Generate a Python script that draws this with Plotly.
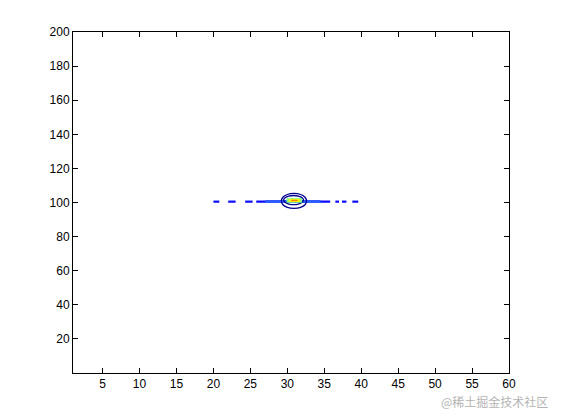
"""MATLAB-style contour plot: narrow peak near (31, 101) on a 60 x 200 grid."""

import plotly.graph_objects as go

X_RANGE = [1, 60]
Y_RANGE = [0, 200]
X_TICKS = [5, 10, 15, 20, 25, 30, 35, 40, 45, 50, 55, 60]
Y_TICKS = [20, 40, 60, 80, 100, 120, 140, 160, 180, 200]

# outer (lowest) contour ring
outer_ring_x = [32.6, 32.4, 31.8, 30.9, 30.0, 29.4, 29.2, 29.4, 30.0, 30.9, 31.8, 32.4, 32.6]
outer_ring_y = [100.9, 103.1, 104.7, 105.3, 104.7, 103.1, 100.9, 98.7, 97.1, 96.5, 97.1, 98.7, 100.9]

# second contour ring
inner_ring_x = [32.2, 32.0, 31.5, 30.85, 30.2, 29.7, 29.5, 29.7, 30.2, 30.85, 31.5, 32.0, 32.2]
inner_ring_y = [101.4, 102.8, 103.8, 104.1, 103.8, 102.8, 101.4, 100.1, 99.1, 98.7, 99.1, 100.1, 101.4]

# thin ridge along y ~ 100.5 (broken into dashes at both ends)
ridge_x = [20.0, 20.8, None, 22.0, 23.0, None, 24.3, 25.3, None, 25.8, 35.8,
           None, 36.5, 37.0, None, 37.4, 38.0, None, 38.8, 39.6]
ridge_y = [100.5, 100.5, None, 100.5, 100.5, None, 100.5, 100.5, None, 100.5, 100.5,
           None, 100.5, 100.5, None, 100.5, 100.5, None, 100.5, 100.5]
ridge_core_x = [27.0, 34.5]
ridge_core_y = [100.6, 100.6]

# peak contours (highest levels)
peak_levels = [
    ("#7fff7f", 4.5, [29.9, 32.0]),
    ("#ffff00", 3.0, [30.2, 31.7]),
    ("#ff8000", 1.5, [30.5, 31.4]),
]
PEAK_Y = 101.2

# white breaks along the bottom edge (contour at the lower boundary)
edge_gap_x = [1.9, 2.3, None, 3.1, 3.65, None, 5.8, 7.2, None, 22.7, 23.2, None,
              36.8, 37.4, None, 38.8, 39.6, None, 40.1, 41.5, None, 42.3, 42.8,
              None, 44.6, 45.5]
edge_gap_y = [0.0 if v is not None else None for v in edge_gap_x]

fig = go.Figure()

fig.add_trace(go.Scatter(
    x=ridge_x, y=ridge_y, mode="lines",
    line=dict(color="#0a0aff", width=2.2), hoverinfo="skip",
))
fig.add_trace(go.Scatter(
    x=ridge_core_x, y=ridge_core_y, mode="lines",
    line=dict(color="#2f5cff", width=3.2), hoverinfo="skip",
))
fig.add_trace(go.Scatter(
    x=outer_ring_x, y=outer_ring_y, mode="lines",
    line=dict(color="#00008f", width=1.3, shape="spline"), hoverinfo="skip",
))
fig.add_trace(go.Scatter(
    x=inner_ring_x, y=inner_ring_y, mode="lines",
    line=dict(color="#000090", width=1.3, shape="spline"), hoverinfo="skip",
))
for color, width, xs in peak_levels:
    fig.add_trace(go.Scatter(
        x=xs, y=[PEAK_Y, PEAK_Y], mode="lines",
        line=dict(color=color, width=width), hoverinfo="skip",
    ))
fig.add_trace(go.Scatter(
    x=edge_gap_x, y=edge_gap_y, mode="lines", cliponaxis=False,
    line=dict(color="white", width=2), hoverinfo="skip",
))

axis_style = dict(
    showgrid=False, zeroline=False, showline=True, linecolor="black",
    linewidth=1, mirror="ticks", ticks="inside", ticklen=5,
    tickcolor="black", tickfont=dict(family="Liberation Sans, Arial", size=12, color="black"),
)
fig.update_xaxes(range=X_RANGE, tickvals=X_TICKS, **axis_style)
fig.update_yaxes(range=Y_RANGE, tickvals=Y_TICKS, **axis_style)

fig.add_annotation(
    text="@稀土掘金技术社区", xref="paper", yref="paper",
    x=1.094, y=-0.085, xanchor="right", yanchor="middle", showarrow=False,
    font=dict(family="Noto Sans CJK SC", size=12, color="#b4b4b4"),
)

# the page body adds an 8 px offset, so margins are shifted to compensate
fig.update_layout(
    width=561, height=420, showlegend=False,
    paper_bgcolor="white", plot_bgcolor="white",
    margin=dict(l=65, r=60, t=24, b=55),
)

fig.write_html("out.html")
